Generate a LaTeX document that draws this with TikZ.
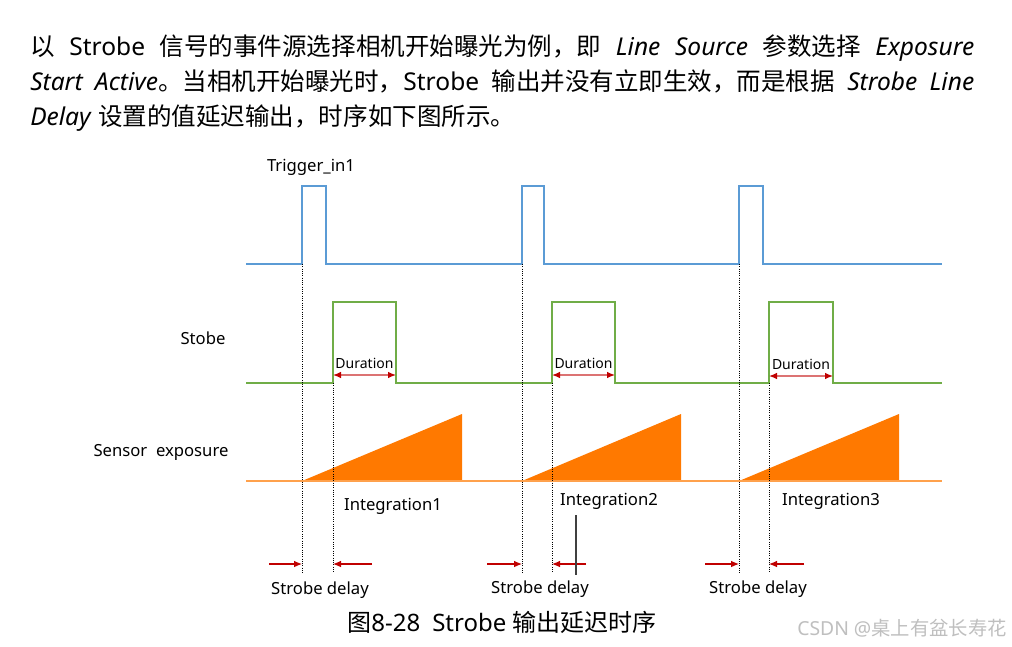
\documentclass[tikz,border=0pt]{standalone}
\usepackage{fontspec}
\setmainfont{Noto Sans}
\newfontfamily\cjk{Noto Sans CJK SC}
\usepackage{tikz}
\usetikzlibrary{arrows.meta, positioning}
\definecolor{sig_blue}{RGB}{91, 155, 213}
\definecolor{sig_green}{RGB}{112, 173, 71}
\definecolor{sig_orange}{RGB}{255, 121, 0}
\definecolor{sig_red}{RGB}{192, 0, 0}

\begin{document}
\begin{tikzpicture}[
        x=0.75pt, y=-0.75pt,
        every node/.style={inner sep=0pt},
        txt/.style={font=\fontsize{18.4}{21}\selectfont, anchor=base west},
        lbl/.style={font=\fontsize{12.5}{14}\selectfont},
        dur/.style={font=\fontsize{10.5}{12}\selectfont},
        trig/.style={draw=sig_blue, line width=1.1pt},
        strb/.style={draw=sig_green, line width=1.1pt},
        expo/.style={draw=sig_orange!70, line width=1.1pt},
        ramp/.style={fill=sig_orange},
        guide/.style={draw, densely dotted, line width=0.7pt},
        dly/.style={draw=sig_red, line width=0.8pt, -{Latex[length=6pt, width=5pt]}},
        durarr/.style={draw=sig_red!55, line width=1pt,
            {Latex[length=6pt, width=5pt, color=sig_red]}-{Latex[length=6pt, width=5pt, color=sig_red]}}
    ]
    \fill[white] (0,0) rectangle (1012,646);
    \useasboundingbox (0,0) rectangle (1012,646);

    \node[txt] (line1) at (30,55) {\hbox to 708pt{{\cjk 以} Strobe {\cjk 信号的事件源选择相机开始曝光为例，即} \textit{Line Source} {\cjk 参数选择} \textit{Exposure}}};
    \node[txt] (line2) at (30,90) {\hbox to 708pt{\textit{Start Active}{\cjk 。当相机开始曝光时，}Strobe {\cjk 输出并没有立即生效，而是根据} \textit{Strobe Line}}};
    \node[txt] (line3) at (30,125) {\textit{Delay} {\cjk 设置的值延迟输出，时序如下图所示。}};

    % signaux
    \draw[trig] (246,264) -- (302,264) -- (302,186) -- (326,186) -- (326,264) -- (522,264) -- (522,186) -- (544,186)
        -- (544,264) -- (739,264) -- (739,186) -- (763,186) -- (763,264) -- (942,264);
    \draw[strb] (246,383) -- (333,383) -- (333,302) -- (396,302) -- (396,383) -- (552,383) -- (552,302) -- (615,302)
        -- (615,383) -- (769,383) -- (769,302) -- (833,302) -- (833,383) -- (942,383);
    \fill[ramp] (302,481) -- (462,414) -- (462,481) -- cycle;
    \fill[ramp] (522,481) -- (681,414) -- (681,481) -- cycle;
    \fill[ramp] (739,481) -- (899,414) -- (899,481) -- cycle;
    \draw[expo] (246,481) -- (942,481);

    \draw[guide] (302,264) -- (302,573);
    \draw[guide] (333,383) -- (333,573);
    \draw[guide] (522,264) -- (522,573);
    \draw[guide] (552,383) -- (552,573);
    \draw[guide] (739,264) -- (739,573);
    \draw[guide] (769,383) -- (769,573);

    \node[lbl] (trigin) at (311,167) {Trigger\_in1};
    \node[lbl] (stobe) at (203,338) {Stobe};
    \node[lbl] (sensor) at (161,452) {Sensor~~exposure};
    \node[lbl] (int1) at (393,506) {Integration1};
    \node[lbl] (int2) at (609,501) {Integration2};
    \node[lbl] (int3) at (831,501) {Integration3};
    \node[lbl] (sd1) at (320,590) {Strobe delay};
    \node[lbl] (sd2) at (540,589) {Strobe delay};
    \node[lbl] (sd3) at (758,589) {Strobe delay};

    \coordinate (u1) at (333,375); \coordinate (v1) at (396,375);
    \coordinate (u2) at (552,375); \coordinate (v2) at (615,375);
    \coordinate (u3) at (769,376); \coordinate (v3) at (833,376);
    \draw[durarr] (u1) -- node[dur, above=4pt] (dur1) {Duration} (v1);
    \draw[durarr] (u2) -- node[dur, above=4pt] (dur2) {Duration} (v2);
    \draw[durarr] (u3) -- node[dur, above=4pt] (dur3) {Duration} (v3);

    \coordinate (a1) at (269,564); \coordinate (t1) at (302,564);
    \coordinate (b1) at (372,564); \coordinate (s1) at (333,564);
    \coordinate (a2) at (487,564); \coordinate (t2) at (522,564);
    \coordinate (b2) at (586,564); \coordinate (s2) at (552,564);
    \coordinate (a3) at (705,564); \coordinate (t3) at (739,564);
    \coordinate (b3) at (804,564); \coordinate (s3) at (769,564);
    \draw[dly] (a1) -- (t1);
    \draw[dly] (b1) -- (s1);
    \draw[dly] (a2) -- (t2);
    \draw[dly] (b2) -- (s2);
    \draw[dly] (a3) -- (t3);
    \draw[dly] (b3) -- (s3);
    \draw[draw=black!75, line width=1.2pt] (576,515) -- (576,575);

    \node[font=\fontsize{18}{21}\selectfont] (caption) at (502,622) {{\cjk 图}8-28\enspace Strobe {\cjk 输出延迟时序}};
    \node[font=\fontsize{14.5}{16}\selectfont, text=black!25] (mark) at (902,628) {CSDN @{\cjk 桌上有盆长寿花}};
\end{tikzpicture}
\end{document}
